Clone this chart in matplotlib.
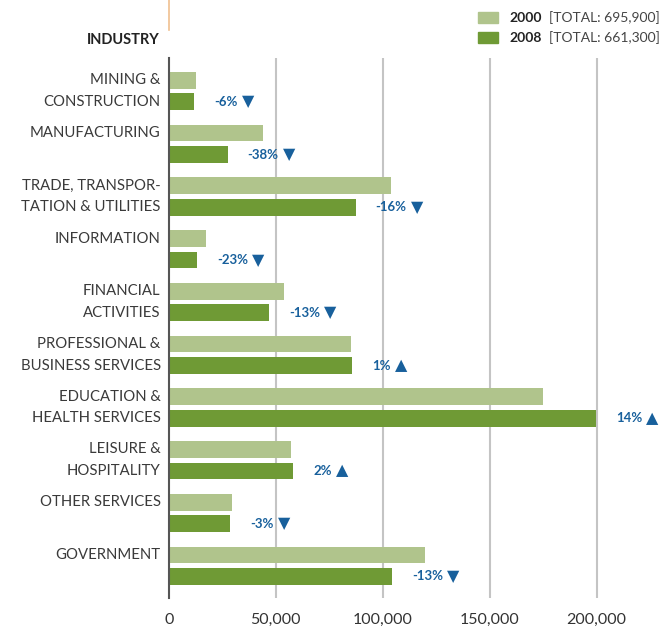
import numpy as np
import matplotlib.pyplot as plt
from matplotlib.patches import Rectangle
from matplotlib.lines import Line2D

# dane
industries = [
    ["MINING &", "CONSTRUCTION"],
    ["MANUFACTURING"],
    ["TRADE, TRANSPOR-", "TATION & UTILITIES"],
    ["INFORMATION"],
    ["FINANCIAL", "ACTIVITIES"],
    ["PROFESSIONAL &", "BUSINESS SERVICES"],
    ["EDUCATION &", "HEALTH SERVICES"],
    ["LEISURE &", "HOSPITALITY"],
    ["OTHER SERVICES"],
    ["GOVERNMENT"],
]
jobs_2000 = [12800, 44000, 103900, 17400, 53900, 85200, 174900, 57200, 29600, 119800]
jobs_2008 = [12000, 27500, 87400, 13300, 46900, 85700, 199700, 58100, 28700, 104300]
pct_change = [-6, -38, -16, -23, -13, 1, 14, 2, -3, -13]
x_ticks = [0, 50000, 100000, 150000, 200000]
legend_labels = ["2000", "2008"]
legend_totals = ["[TOTAL: 695,900]", "[TOTAL: 661,300]"]

c2000 = '#b0c48c'
c2008 = '#6f9a35'
blue = '#18609c'
txt = '#333333'

plt.rcParams['font.family'] = ['Lato', 'DejaVu Sans']

W, H = 663, 631
fig = plt.figure(figsize=(W / 100, H / 100), dpi=100)
ax = fig.add_axes([168.7 / W, (H - 598) / H, (W - 168.7) / W, 540 / H])

off = 0.408
bh = 0.317
pos = np.arange(len(industries))
ax.barh(pos, jobs_2000, height=bh, color=c2000, zorder=2)
ax.barh(pos + off, jobs_2008, height=bh, color=c2008, zorder=2)

ax.set_xlim(0, 231000)
ax.set_ylim(len(industries) - 1 + 2 * off, -0.423)

for x in x_ticks[1:]:
    ax.axvline(x, color='#c4c4c4', lw=1.5, zorder=1)

ax.set_xticks(x_ticks)
ax.set_xticklabels([f"{v:,}" for v in x_ticks], fontsize=11.5, color=txt)
ax.tick_params(axis='x', length=0, pad=11)
ax.set_yticks([])
for s in ['top', 'right', 'bottom']:
    ax.spines[s].set_visible(False)
ax.spines['left'].set_color('#555555')
ax.spines['left'].set_linewidth(1.5)

# etykiety branż
for i, lines in enumerate(industries):
    for j, line in enumerate(lines):
        ax.annotate(line, xy=(0, i + j * off), xytext=(-8, 0), textcoords='offset pixels',
                    ha='right', va='center', fontsize=10.7, color='#3a3a3a',
                    annotation_clip=False)

# zmiana procentowa
for i, (v, p) in enumerate(zip(jobs_2008, pct_change)):
    t = ax.annotate(f"{p}%", xy=(v, i + off), xytext=(20, 0), textcoords='offset pixels',
                    ha='left', va='center', fontsize=9.5, fontweight='bold', color=blue,
                    annotation_clip=False)
    ax.annotate('▲' if p > 0 else '▼', xy=(1, 0.5), xycoords=t, xytext=(4, 0),
                textcoords='offset pixels', ha='left', va='center', fontsize=11.5,
                color=blue, family='DejaVu Sans', annotation_clip=False)

# nagłówek i legenda
fig.text(160 / W, 1 - 40 / H, "INDUSTRY", ha='right', va='center', fontsize=10.5,
         fontweight='bold', color='#222222')
fig.add_artist(Line2D([168.5 / W, 168.5 / W], [1, 1 - 30 / H], color='#f0c090', lw=1.2))

for k, (lab, tot, col) in enumerate(zip(legend_labels, legend_totals, [c2000, c2008])):
    yc = 17.5 + 20 * k
    fig.add_artist(Rectangle((477.7 / W, 1 - (yc + 5.5) / H), 20 / W, 11 / H,
                             color=col, transform=fig.transFigure))
    fig.text(509 / W, 1 - yc / H, lab, ha='left', va='center', fontsize=10,
             fontweight='bold', color='#222222')
    fig.text(660 / W, 1 - yc / H, tot, ha='right', va='center', fontsize=10,
             color='#444444')

fig.savefig('out.png', dpi=100)
